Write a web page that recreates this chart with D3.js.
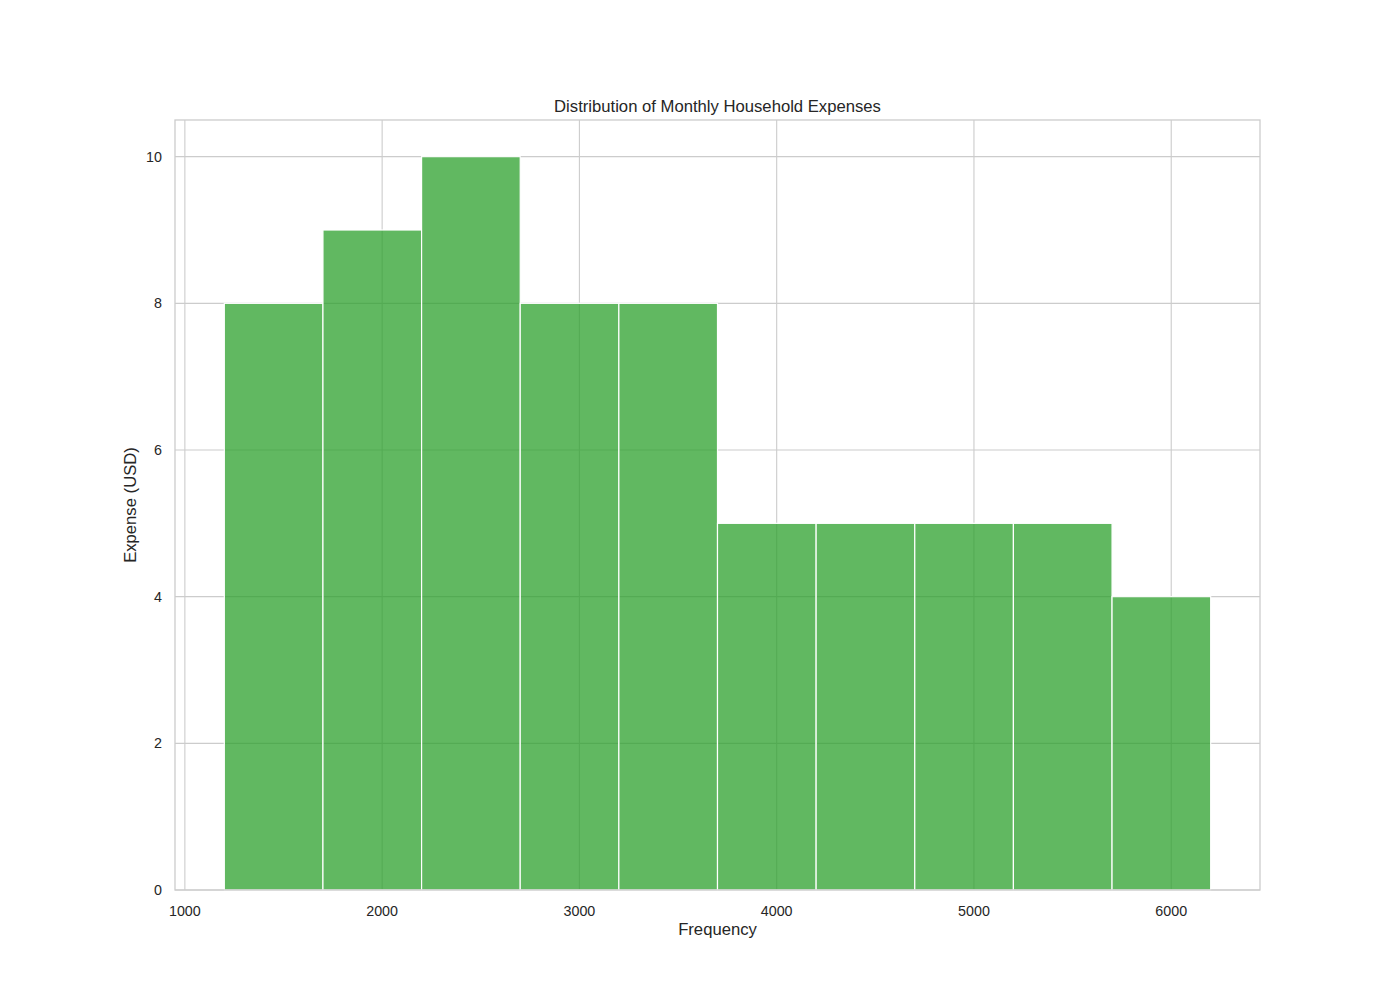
<!DOCTYPE html>
<html><head><meta charset="utf-8">
<script src="https://cdn.jsdelivr.net/npm/d3@7"></script>
<style>body{margin:0;background:#fff}</style>
</head><body>
<script>
const binStarts = [1200,1700,2200,2700,3200,3700,4200,4700,5200,5700];
const binWidth = 500;
const counts = [8,9,10,8,8,5,5,5,5,4];
const xTicks = [1000,2000,3000,4000,5000,6000];
const yTicks = [0,2,4,6,8,10];
const title = "Distribution of Monthly Household Expenses";
const xLabel = "Frequency";
const yLabel = "Expense (USD)";

const W=1400,H=1000, L=175, R=1260, T=120, B=890;
const svg=d3.select("body").append("svg").attr("width",W).attr("height",H)
  .style("font-family","'Liberation Sans', Arial, sans-serif");
const x=d3.scaleLinear().domain([950,6450]).range([L,R]);
const y=d3.scaleLinear().domain([0,10.5]).range([B,T]);

// grid
svg.append("g").selectAll("line").data(xTicks).join("line")
  .attr("x1",d=>x(d)).attr("x2",d=>x(d)).attr("y1",T).attr("y2",B)
  .attr("stroke","#cccccc").attr("stroke-width",1.1);
svg.append("g").selectAll("line").data(yTicks).join("line")
  .attr("y1",d=>y(d)).attr("y2",d=>y(d)).attr("x1",L).attr("x2",R)
  .attr("stroke","#cccccc").attr("stroke-width",1.1);

// bars
svg.append("g").selectAll("rect").data(counts).join("rect")
  .attr("x",(d,i)=>x(binStarts[i]))
  .attr("width",(d,i)=>x(binStarts[i]+binWidth)-x(binStarts[i]))
  .attr("y",d=>y(d)).attr("height",d=>B-y(d))
  .attr("fill","#2ca02c").attr("fill-opacity",0.75)
  .attr("stroke","#ffffff").attr("stroke-width",1.2);

// frame
svg.append("rect").attr("x",L).attr("y",T).attr("width",R-L).attr("height",B-T)
  .attr("fill","none").attr("stroke","#cccccc").attr("stroke-width",1.3);

// tick labels
svg.append("g").selectAll("text").data(xTicks).join("text")
  .attr("x",d=>x(d)).attr("y",B+26).attr("text-anchor","middle")
  .attr("font-size",14.3).attr("fill","#262626").text(d=>d);
svg.append("g").selectAll("text").data(yTicks).join("text")
  .attr("x",L-13).attr("y",d=>y(d)+5).attr("text-anchor","end")
  .attr("font-size",14.3).attr("fill","#262626").text(d=>d);

svg.append("text").attr("x",(L+R)/2).attr("y",112).attr("text-anchor","middle")
  .attr("font-size",16.67).attr("fill","#262626").text(title);
svg.append("text").attr("x",(L+R)/2).attr("y",935).attr("text-anchor","middle")
  .attr("font-size",16.67).attr("fill","#262626").text(xLabel);
svg.append("text").attr("transform",`translate(136,${(T+B)/2}) rotate(-90)`).attr("text-anchor","middle")
  .attr("font-size",16.67).attr("fill","#262626").text(yLabel);
</script>
</body></html>
